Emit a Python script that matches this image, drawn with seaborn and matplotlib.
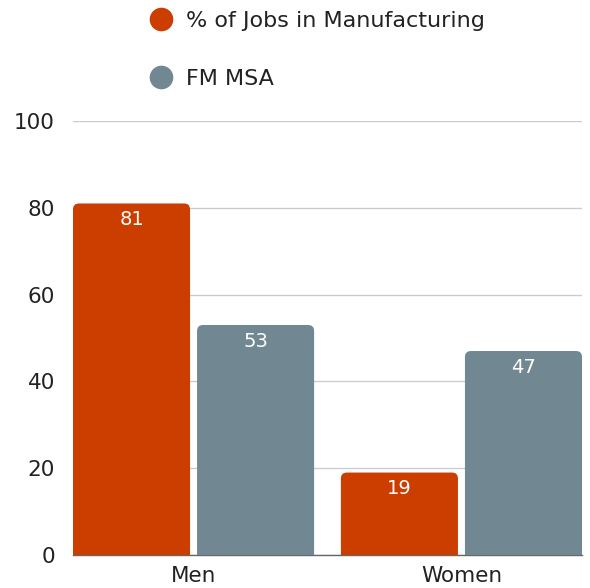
import matplotlib
matplotlib.use("Agg")
import matplotlib.pyplot as plt
import seaborn as sns
import pandas as pd
from matplotlib.path import Path
from matplotlib.patches import PathPatch
from matplotlib.lines import Line2D

categories = ["Men", "Women"]
series_names = ["% of Jobs in Manufacturing", "FM MSA"]
manufacturing = [81, 19]
fm_msa = [53, 47]
yticks = [0, 20, 40, 60, 80, 100]
colors = ["#CC3D00", "#718892"]

df = pd.DataFrame({
    "category": categories * 2,
    "series": [series_names[0]] * 2 + [series_names[1]] * 2,
    "value": manufacturing + fm_msa,
})

sns.set_theme(style="white")
plt.rcParams["font.family"] = ["DejaVu Sans"]

fig = plt.figure(figsize=(5.9, 5.88), dpi=100)
ax = fig.add_axes([73 / 590, 1 - 555 / 588, (582 - 73) / 590, (555 - 121) / 588])

sns.barplot(data=df, x="category", y="value", hue="series", order=categories,
            hue_order=series_names, palette=colors, width=0.9, ax=ax,
            legend=False, saturation=1, errorbar=None, zorder=3)

ax.set_xlim(-0.45, 1.45)
ax.set_ylim(0, 100)

# Rebuild bars with a small inner gap and rounded tops
half_gap = 3.5 / 268
rx = 6 / 268
ry = 6 / 4.34
patches = list(ax.patches)
for p in patches:
    x0, y0 = p.get_x(), p.get_y()
    w, h = p.get_width(), p.get_height()
    fc = p.get_facecolor()
    p.remove()
    if w <= 0:
        continue
    x1 = x0 + w
    center = round(x0 + w / 2)
    if x0 + w / 2 < center:
        x1 -= half_gap
    else:
        x0 += half_gap
    w = x1 - x0
    y1 = y0 + h
    verts = [(x0, y0), (x0, y1 - ry), (x0, y1), (x0 + rx, y1),
             (x1 - rx, y1), (x1, y1), (x1, y1 - ry), (x1, y0), (x0, y0)]
    codes = [Path.MOVETO, Path.LINETO, Path.CURVE3, Path.CURVE3,
             Path.LINETO, Path.CURVE3, Path.CURVE3, Path.LINETO, Path.CLOSEPOLY]
    ax.add_patch(PathPatch(Path(verts, codes), facecolor=fc, edgecolor="none", zorder=3))
    ax.annotate(f"{h:.0f}", xy=(x0 + w / 2, y1), xytext=(0, -5), textcoords="offset points",
                ha="center", va="top", color="white", fontsize=14, zorder=4)

ax.set_yticks(yticks)
ax.set_yticklabels([str(t) for t in yticks])
ax.yaxis.grid(True, color="#CCCCCC", linewidth=1, zorder=0)
ax.xaxis.grid(False)
for s in ["left", "right", "top"]:
    ax.spines[s].set_visible(False)
ax.spines["bottom"].set_color("#666666")
ax.spines["bottom"].set_linewidth(1)
ax.tick_params(axis="y", length=0, pad=13, labelsize=15.5, colors="#222222")
ax.tick_params(axis="x", length=0, pad=8, labelsize=15.5, colors="#222222")
ax.set_xlabel("")
ax.set_ylabel("")

handles = [Line2D([0], [0], marker="o", linestyle="none", markersize=16,
                  markerfacecolor=c, markeredgecolor=c) for c in colors]
fig.legend(handles, series_names, loc="upper left", bbox_to_anchor=(139 / 590, 1 - 11 / 588),
           frameon=False, fontsize=16, labelspacing=1.7, handletextpad=0.1,
           labelcolor="#222222", borderaxespad=0, borderpad=0)

fig.savefig("out.png", dpi=100)
